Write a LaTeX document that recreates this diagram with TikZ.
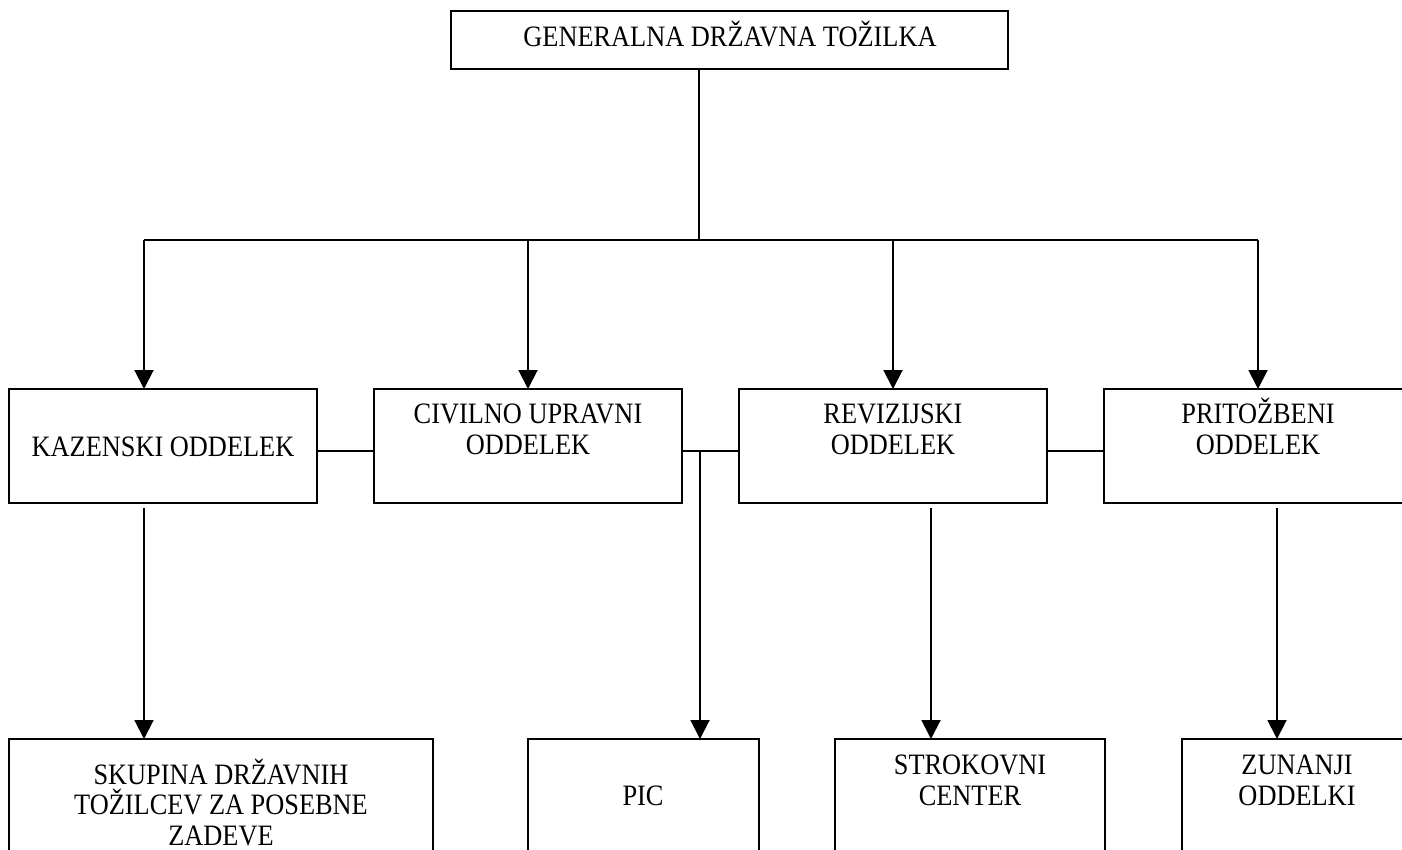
\documentclass[tikz,border=0pt]{standalone}
\usepackage{fontspec}
\setmainfont{Liberation Serif}[FakeStretch=0.89]
\usetikzlibrary{arrows.meta}

\begin{document}
\begin{tikzpicture}[x=1pt, y=-1pt,
    box/.style={draw, line width=2pt, inner sep=0pt, outer sep=0pt, anchor=north west},
    txt/.style={align=center, anchor=base, inner sep=0pt, font=\fontsize{29.6}{30.5}\selectfont},
    link/.style={line width=2pt},
    pointer/.style={link, -{Triangle[width=19pt, length=19pt]}}]
\useasboundingbox (0,0) rectangle (1402,850);
\clip (0,0) rectangle (1402,850);

% Top
\node[box, minimum width=557, minimum height=58] (gdt) at (451,11) {};
\node[txt] (gdttxt) at (730,47) {GENERALNA DRŽAVNA TOŽILKA};

% Departments
\node[box, minimum width=308, minimum height=114] (kaz) at (9,389) {};
\node[box, minimum width=308, minimum height=114] (civ) at (374,389) {};
\node[box, minimum width=308, minimum height=114] (rev) at (739,389) {};
\node[box, minimum width=308, minimum height=114] (pri) at (1104,389) {};
\node[txt] (kaztxt) at (163,456) {KAZENSKI ODDELEK};
\node[txt] (civtxt) at (528,454) {CIVILNO UPRAVNI\\ODDELEK};
\node[txt] (revtxt) at (893,454) {REVIZIJSKI\\ODDELEK};
\node[txt] (pritxt) at (1258,454) {PRITOŽBENI\\ODDELEK};

% Bottom row
\node[box, minimum width=424, minimum height=150] (spe) at (9,739) {};
\node[box, minimum width=231, minimum height=150] (pic) at (528,739) {};
\node[box, minimum width=270, minimum height=150] (stc) at (835,739) {};
\node[box, minimum width=231, minimum height=150] (zun) at (1182,739) {};
\node[txt] (spetxt) at (221,845) {SKUPINA DRŽAVNIH\\TOŽILCEV ZA POSEBNE\\ZADEVE};
\node[txt] (pictxt) at (643,805) {PIC};
\node[txt] (stctxt) at (970,805) {STROKOVNI\\CENTER};
\node[txt] (zuntxt) at (1297,805) {ZUNANJI\\ODDELKI};

% Bus from the top
\coordinate (bus) at (699,240);
\coordinate (busL) at (144,240);
\coordinate (busR) at (1258,240);
\draw[link] (gdt.south -| bus) -- (bus);
\draw[link] (busL) -- (busR);
\draw[pointer] (busL) -- (busL |- kaz.north);
\foreach \n in {civ,rev,pri}
    \draw[pointer] (\n.north |- busL) -- (\n.north);

% Links between departments
\coordinate (mid) at (0,451);
\draw[link] (kaz.east |- mid) -- (civ.west |- mid);
\draw[link] (civ.east |- mid) -- (rev.west |- mid);
\draw[link] (rev.east |- mid) -- (pri.west |- mid);

% Down to the bottom row
\coordinate (picin) at (700,451);
\coordinate (kazout) at (144,508);
\coordinate (revout) at (931,508);
\coordinate (priout) at (1277,508);
\draw[pointer] (picin) -- (picin |- pic.north);
\draw[pointer] (kazout) -- (kazout |- spe.north);
\draw[pointer] (revout) -- (revout |- stc.north);
\draw[pointer] (priout) -- (priout |- zun.north);
\end{tikzpicture}
\end{document}
